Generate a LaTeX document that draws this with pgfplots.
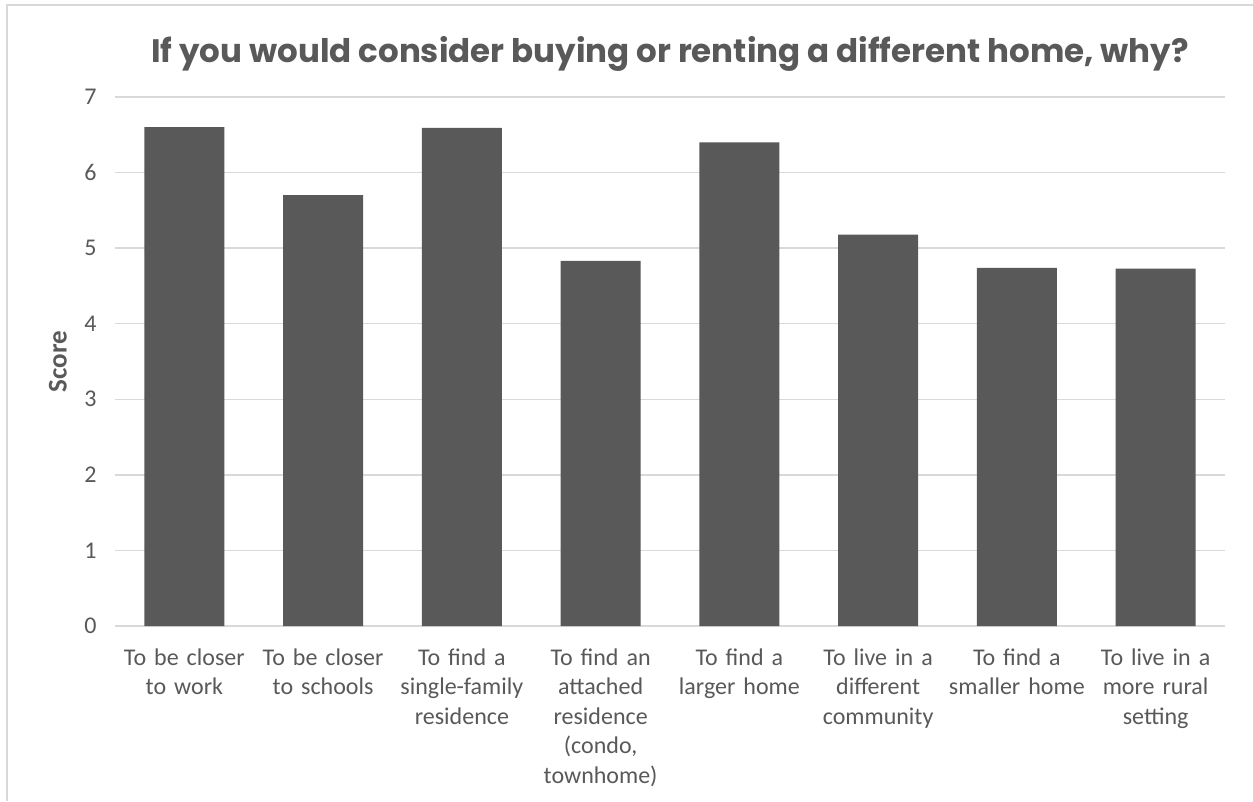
\documentclass[border=0pt]{standalone}
\usepackage{fontspec}
\setmainfont{Carlito}
\newfontfamily\titlefont{Poppins}
\usepackage{pgfplots}
\pgfplotsset{compat=1.18}
\definecolor{bargray}{HTML}{595959}
\definecolor{txtgray}{HTML}{595959}
\definecolor{gridgray}{HTML}{D9D9D9}
\begin{document}
\begin{tikzpicture}
\useasboundingbox (0pt,0pt) rectangle (1253pt,801pt);
\fill[white] (0pt,0pt) rectangle (1253pt,801pt);
\draw[gridgray, line width=1.5pt] (7pt,0pt) -- (7pt,796pt) -- (1253pt,796pt);
\begin{axis}[
  at={(115pt,175pt)}, anchor=south west,
  scale only axis, width=1110pt, height=529pt,
  ymin=0, ymax=7, xmin=-0.5, xmax=7.5,
  ytick={0,1,...,7},
  xtick=data,
  xticklabels={{To be closer\\to work},{To be closer\\to schools},{To find a\\single-family\\residence},{To find an\\attached\\residence\\(condo,\\townhome)},{To find a\\larger home},{To live in a\\different\\community},{To find a\\smaller home},{To live in a\\more rural\\setting}},
  ybar, bar width=80pt,
  ymajorgrids, major grid style={gridgray, line width=1.5pt},
  axis line style={draw=none},
  major tick length=0pt,
  /pgf/number format/assume math mode=true,
  xticklabel style={text width=150pt, align=center, font=\fontsize{24}{29.5}\selectfont, text=txtgray, yshift=-19pt},
  yticklabel style={font=\fontsize{24}{29}\selectfont, text=txtgray, xshift=-15pt},
  ylabel={Score},
  every axis y label/.style={at={(axis description cs:-0.0514,0.5)}, anchor=center, rotate=90, font=\bfseries\fontsize{27}{32}\selectfont, text=txtgray},
]
\addplot[fill=bargray, draw=none] coordinates {(0,6.60) (1,5.70) (2,6.59) (3,4.83) (4,6.40) (5,5.18) (6,4.74) (7,4.73)};
\end{axis}
\node[anchor=base, text=txtgray, font=\titlefont\bfseries\fontsize{32.5}{38}\selectfont] at (670pt,738pt) {If you would consider buying or renting a different home, why?};
\end{tikzpicture}
\end{document}
